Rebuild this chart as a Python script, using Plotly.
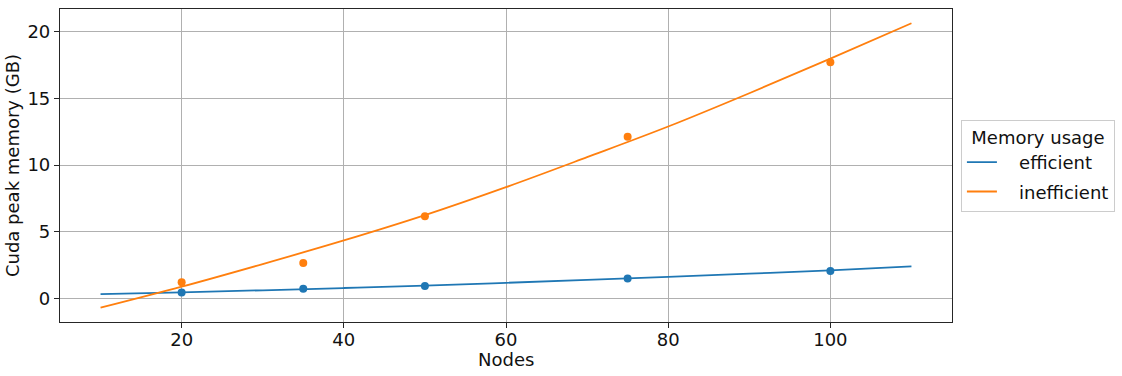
import plotly.graph_objects as go

# Measured points
nodes = [20, 35, 50, 75, 100]
efficient_mem = [0.45, 0.72, 0.94, 1.49, 2.06]
inefficient_mem = [1.22, 2.65, 6.17, 12.14, 17.73]

# Fitted curves
fit_nodes = [10, 20, 30, 40, 50, 60, 70, 80, 90, 100, 110]
fit_eff = [0.32, 0.46, 0.61, 0.78, 0.96, 1.17, 1.39, 1.62, 1.86, 2.11, 2.41]
fit_ineff = [-0.70, 0.88, 2.58, 4.35, 6.25, 8.35, 10.60, 12.90, 15.40, 18.00, 20.65]

x_ticks = [20, 40, 60, 80, 100]
y_ticks = [0, 5, 10, 15, 20]

BLUE = "#1f77b4"
ORANGE = "#ff7f0e"
FONT = "DejaVu Sans"
FS = 18
TXT = "#111111"
NB = "\u00a0\u00a0\u00a0"

fig = go.Figure()
fig.add_trace(go.Scatter(x=fit_nodes, y=fit_eff, mode="lines", legendgroup="a",
                         line=dict(color=BLUE, width=1.8, shape="spline"), name=NB + "efficient"))
fig.add_trace(go.Scatter(x=fit_nodes, y=fit_ineff, mode="lines", legendgroup="b",
                         line=dict(color=ORANGE, width=1.8, shape="spline"), name=NB + "inefficient"))
fig.add_trace(go.Scatter(x=nodes, y=efficient_mem, mode="markers",
                         marker=dict(color=BLUE, size=8), showlegend=False))
fig.add_trace(go.Scatter(x=nodes, y=inefficient_mem, mode="markers",
                         marker=dict(color=ORANGE, size=8), showlegend=False))

axis_common = dict(
    showgrid=True, gridcolor="#b0b0b0", gridwidth=0.8,
    showline=True, linecolor="#262626", linewidth=1.2, mirror=True,
    ticks="outside", ticklen=5, tickcolor="#262626", tickwidth=1,
    zeroline=False, tickfont=dict(family=FONT, size=FS, color=TXT),
)

fig.update_xaxes(range=[5, 115], tickvals=x_ticks, ticklabelstandoff=-4, **axis_common)
fig.update_yaxes(range=[-1.77, 21.72], tickvals=y_ticks,
                 title=dict(text="Cuda peak memory (GB)", font=dict(family=FONT, size=FS, color=TXT), standoff=3),
                 **axis_common)

fig.add_annotation(text="Nodes", xref="paper", yref="paper", x=0.5, y=-38 / 314,
                   xanchor="center", yanchor="middle", showarrow=False,
                   font=dict(family=FONT, size=FS, color=TXT))

fig.update_layout(
    width=1122, height=376,
    margin=dict(l=59.5, r=170, t=7.3, b=54),
    plot_bgcolor="white", paper_bgcolor="white",
    font=dict(family=FONT, size=FS, color=TXT),
    legend=dict(
        title=dict(text="Memory usage", font=dict(family=FONT, size=FS, color=TXT), side="top center"),
        x=1.01, xanchor="left", y=0.5, yanchor="middle",
        bordercolor="#cccccc", borderwidth=1, bgcolor="white",
        font=dict(family=FONT, size=FS, color=TXT), tracegroupgap=3,
    ),
    showlegend=True,
)

fig.write_html("out.html", config={"displayModeBar": False},
               post_script="document.body.style.margin='0';document.body.style.overflow='hidden';")
